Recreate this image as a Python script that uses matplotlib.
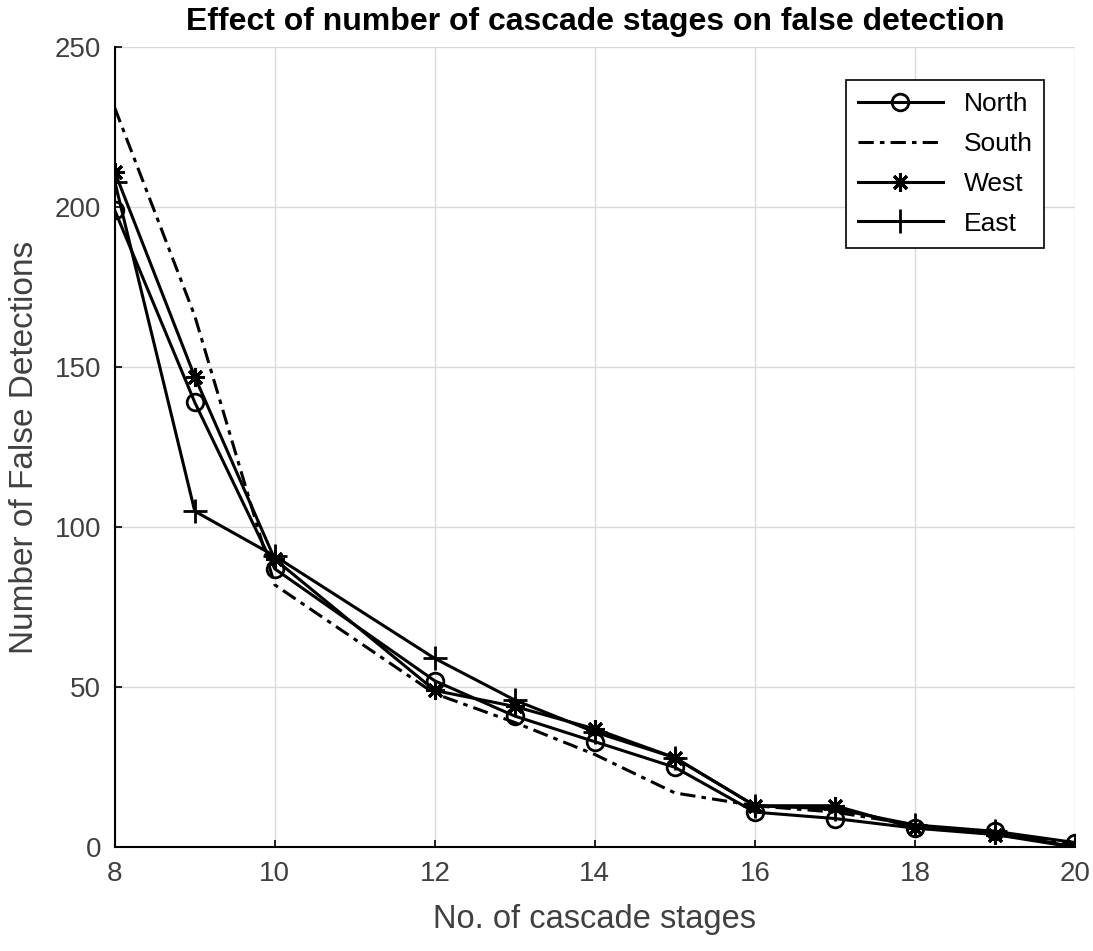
import matplotlib.pyplot as plt
from matplotlib import font_manager

stages = [8, 9, 10, 12, 13, 14, 15, 16, 17, 18, 19, 20]
north = [199, 139, 87, 52, 41, 33, 25, 11, 9, 6, 5, 1.5]
south = [231, 166, 82, 48, 39, 29, 17, 13, 11, 7, 4, 1]
west = [211, 147, 90, 49, 44, 37, 28, 13, 13, 6, 4, 0]
east = [208, 105, 91, 59, 46, 36, 28, 13, 12, 7, 5, 0]

names = {f.name for f in font_manager.fontManager.ttflist}
font = 'Liberation Sans Narrow' if 'Liberation Sans Narrow' in names else 'Liberation Sans'
plt.rcParams['font.family'] = [font, 'DejaVu Sans']

fig = plt.figure(figsize=(10.93, 9.51), dpi=100)
ax = fig.add_axes([0.105, 0.109, 0.8785, 0.8415])

lw = 2.2
ax.plot(stages, north, '-o', color='black', lw=lw, ms=12, mew=2, mfc='none', label='North')
ax.plot(stages, south, color='black', lw=lw, dashes=(5, 2, 1.5, 2), label='South')
ax.plot(stages, west, '-', marker=(8, 2, 0), color='black', lw=lw, ms=13, mew=2.2, label='West')
ax.plot(stages, east, '-+', color='black', lw=lw, ms=17, mew=2, label='East')

ax.set_xlim(8, 20)
ax.set_ylim(0, 250)
ax.set_xticks(range(8, 21, 2))
ax.set_yticks(range(0, 251, 50))
ax.grid(True, color='#d9d9d9', lw=1)
ax.set_axisbelow(True)

for s in ['top', 'right']:
    ax.spines[s].set_visible(False)
for s in ['left', 'bottom']:
    ax.spines[s].set_linewidth(1.5)
ax.tick_params(direction='in', length=5, width=1.2, labelsize=20, labelcolor='#404040', pad=10)

ax.set_title('Effect of number of cascade stages on false detection', fontsize=23, fontweight='bold', pad=12)
ax.set_xlabel('No. of cascade stages', fontsize=23.5, color='#404040', labelpad=12)
ax.set_ylabel('Number of False Detections', fontsize=24, color='#404040', labelpad=10)

leg = ax.legend(loc='upper right', bbox_to_anchor=(0.982, 0.975), fontsize=19, handlelength=3.2,
                fancybox=False, edgecolor='black', framealpha=1, borderpad=0.45, labelspacing=0.6)
leg.get_frame().set_linewidth(1.2)

fig.savefig('out.png', dpi=100)
